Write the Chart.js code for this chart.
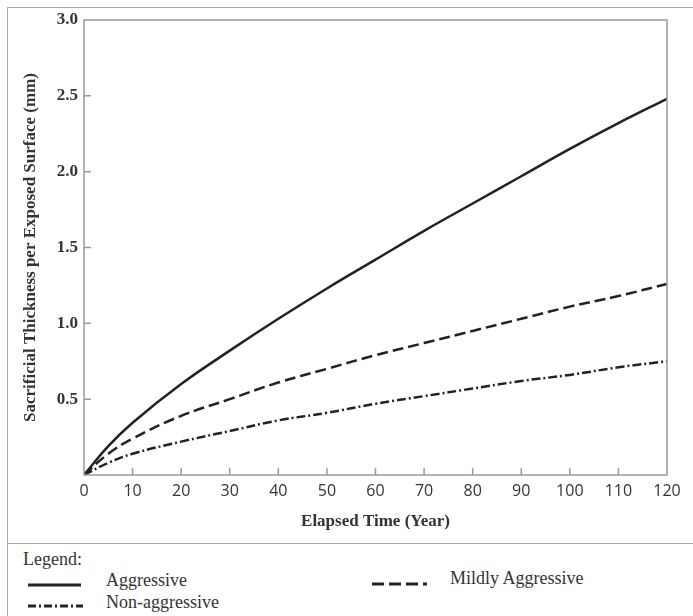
<!DOCTYPE html>
<html>
<head>
<meta charset="utf-8">
<script src="https://cdn.jsdelivr.net/npm/chart.js@4/dist/chart.umd.min.js"></script>
<style>
  body { margin: 0; background: #fff; }
  #wrap { position: relative; width: 693px; height: 616px; overflow: hidden; }
  #box { position: absolute; left: 7px; top: 7px; width: 690px; height: 535px;
         border-top: 1px solid #aaa; border-left: 1px solid #aaa; border-bottom: 1px solid #aaa; }
  #legendBox { position: absolute; left: 7px; top: 543px; width: 690px; height: 80px; border-left: 1px solid #aaa; }
  canvas { position: absolute; left: 0; top: 0; }
  .lg { position: absolute; font-family: "Liberation Serif", serif; font-size: 18px; color: #333; line-height: 20px; white-space: nowrap; }
  svg.smp { position: absolute; }
</style>
</head>
<body>
<div id="wrap">
  <div id="box"></div>
  <div id="legendBox"></div>
  <canvas id="chart" width="693" height="542"></canvas>
  <div class="lg" style="left:23px; top:549px;">Legend:</div>
  <svg class="smp" style="left:28px; top:580px;" width="55" height="10"><line x1="0" y1="5" x2="53" y2="5" stroke="#222" stroke-width="3"/></svg>
  <div class="lg" style="left:106px; top:570px;">Aggressive</div>
  <svg class="smp" style="left:28px; top:601px;" width="55" height="10"><line x1="0" y1="5" x2="55" y2="5" stroke="#222" stroke-width="3" stroke-dasharray="8,3,2,3"/></svg>
  <div class="lg" style="left:106px; top:592px;">Non-aggressive</div>
  <svg class="smp" style="left:372px; top:579px;" width="56" height="10"><line x1="0" y1="5" x2="55" y2="5" stroke="#222" stroke-width="3" stroke-dasharray="12,5"/></svg>
  <div class="lg" style="left:450px; top:568px;">Mildly Aggressive</div>
</div>
<script>
// values
let years = [0, 5, 10, 20, 30, 40, 50, 60, 70, 80, 90, 100, 110, 120];
let aggressive = [0, 0.19, 0.345, 0.60, 0.82, 1.03, 1.23, 1.42, 1.61, 1.79, 1.97, 2.15, 2.32, 2.48];
let mildly = [0, 0.14, 0.24, 0.39, 0.50, 0.61, 0.70, 0.79, 0.87, 0.95, 1.03, 1.11, 1.18, 1.26];
let nonAggressive = [0, 0.08, 0.14, 0.22, 0.29, 0.36, 0.41, 0.47, 0.52, 0.57, 0.62, 0.66, 0.71, 0.75];

let xTicks = [0, 10, 20, 30, 40, 50, 60, 70, 80, 90, 100, 110, 120];
let yTicks = [0, 0.5, 1.0, 1.5, 2.0, 2.5, 3.0];

function toPoints(values) {
    return years.map((yr, i) => ({ x: yr, y: values[i] }));
}

// frame round the plot + inward tick marks
const frame = {
    id: 'frame',
    afterDraw(chart) {
        let ctx = chart.ctx;
        let a = chart.chartArea;
        let xs = chart.scales.x, ys = chart.scales.y;
        ctx.save();
        ctx.strokeStyle = '#999';
        ctx.lineWidth = 1.5;
        ctx.strokeRect(a.left, a.top, a.right - a.left, a.bottom - a.top);
        ctx.beginPath();
        yTicks.forEach(v => {
            if (v === 0 || v === 3) return;
            let py = ys.getPixelForValue(v);
            ctx.moveTo(a.left, py);
            ctx.lineTo(a.left + 7, py);
        });
        xTicks.forEach(v => {
            if (v === 0 || v === 120) return;
            let px = xs.getPixelForValue(v);
            ctx.moveTo(px, a.bottom);
            ctx.lineTo(px, a.bottom - 7);
        });
        ctx.stroke();
        ctx.restore();
    }
};

const ctx = document.getElementById('chart').getContext('2d');
new Chart(ctx, {
    type: 'line',
    data: {
        datasets: [
            { label: 'Aggressive', data: toPoints(aggressive), borderColor: '#222', borderWidth: 2.5 },
            { label: 'Mildly Aggressive', data: toPoints(mildly), borderColor: '#222', borderWidth: 2.5, borderDash: [11, 5] },
            { label: 'Non-aggressive', data: toPoints(nonAggressive), borderColor: '#222', borderWidth: 2.5, borderDash: [9, 3, 2, 3] }
        ]
    },
    options: {
        responsive: false,
        animation: false,
        layout: { padding: { top: 20, right: 26, left: 0, bottom: 0 } },
        elements: { point: { radius: 0 }, line: { tension: 0.4, fill: false } },
        plugins: { legend: { display: false }, tooltip: { enabled: false } },
        scales: {
            x: {
                type: 'linear',
                min: 0,
                max: 120,
                afterBuildTicks: (scale) => { scale.ticks = xTicks.map(v => ({ value: v })); },
                afterFit: (scale) => { scale.height = 67; },
                grid: { display: false, drawTicks: false },
                border: { display: false },
                ticks: {
                    padding: 7,
                    color: '#333',
                    font: { family: 'Open Sans', size: 16 }
                },
                title: {
                    display: true,
                    text: 'Elapsed Time (Year)',
                    color: '#333',
                    font: { family: 'Liberation Serif', size: 17, weight: 'bold' },
                    padding: { top: 0, bottom: 10 }
                }
            },
            y: {
                min: 0,
                max: 3,
                afterBuildTicks: (scale) => { scale.ticks = yTicks.map(v => ({ value: v })); },
                afterFit: (scale) => { scale.width = 84; },
                grid: { display: false, drawTicks: false },
                border: { display: false },
                ticks: {
                    padding: 6,
                    color: '#333',
                    font: { family: 'Liberation Serif', size: 17, weight: 'bold' },
                    callback: (v) => v === 0 ? '' : v.toFixed(1)
                },
                title: {
                    display: true,
                    text: 'Sacrificial Thickness per Exposed Surface (mm)',
                    color: '#333',
                    font: { family: 'Liberation Serif', size: 17, weight: 'bold' },
                    padding: { top: 20, bottom: 0 }
                }
            }
        }
    },
    plugins: [frame]
});
</script>
</body>
</html>
